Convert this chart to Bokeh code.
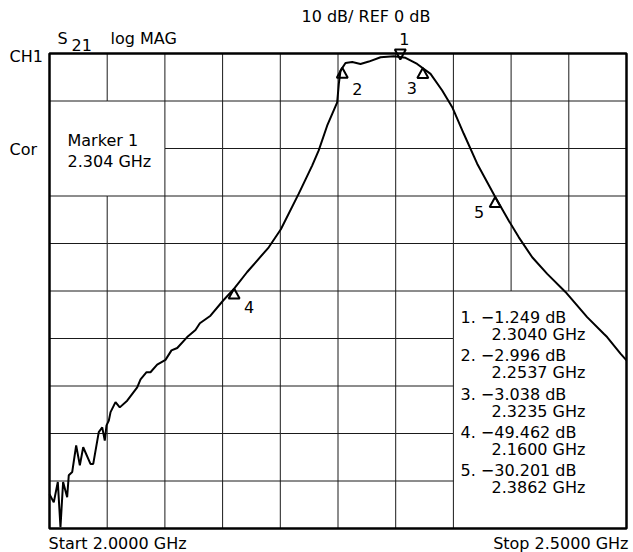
from bokeh.plotting import figure
from bokeh.models import Label, Range1d
from bokeh.embed import file_html
from bokeh.resources import INLINE

# ---------------- data ----------------
freq_ghz = [2.0000, 2.0037, 2.0072, 2.0095, 2.0118, 2.0153, 2.0167, 2.0197, 2.0231, 2.0263,
            2.0292, 2.0355, 2.0379, 2.0427, 2.0457, 2.0479, 2.0494, 2.0514, 2.0529, 2.0572,
            2.0609, 2.0673, 2.0760, 2.0789, 2.0841, 2.0875, 2.0933, 2.1005, 2.1057, 2.1107,
            2.1193, 2.1265, 2.1303, 2.1395, 2.1505, 2.1600, 2.1713, 2.1900, 2.2005, 2.2160,
            2.2276, 2.2333, 2.2406, 2.2493, 2.2507, 2.2522, 2.2565, 2.2623, 2.2695, 2.2767,
            2.2869, 2.2984, 2.3085, 2.3186, 2.3302, 2.3403, 2.3490, 2.3590, 2.3706, 2.3865,
            2.3980, 2.4067, 2.4183, 2.4313, 2.4471, 2.4659, 2.4803, 2.4832, 2.4948, 2.5000]
s21_db = [-92.8, -94.5, -90.2, -99.7, -90.2, -93.4, -88.8, -88.1, -82.5, -86.7,
          -82.9, -86.4, -86.4, -79.7, -78.7, -81.5, -78.3, -77.3, -75.5, -73.4,
          -74.5, -73.1, -70.3, -68.6, -67.1, -67.1, -65.5, -64.5, -62.5, -62.0,
          -59.7, -58.2, -56.8, -55.2, -52.0, -49.5, -46.0, -40.8, -37.0, -29.5,
          -23.6, -20.4, -15.2, -10.3, -6.4, -3.6, -2.0, -1.8, -2.2, -1.7,
          -0.8, -0.6, -0.9, -2.2, -4.3, -7.8, -11.3, -16.9, -23.2, -30.3,
          -35.2, -38.7, -42.9, -46.4, -50.2, -55.5, -59.0, -59.7, -63.2, -64.6]

marker_ids = ["1", "2", "3", "4", "5"]
marker_freq = [2.3040, 2.2537, 2.3235, 2.1600, 2.3862]
marker_db = [-1.249, -2.996, -3.038, -49.462, -30.201]

start_ghz, stop_ghz = 2.0, 2.5
ref_db, db_per_div, n_div = 0, 10, 10

# ---------------- layout ----------------
W, H = 633, 552
PL, PR, PT, PB = 49, 626, 53, 528          # graticule box on the canvas, pixels
FONT = "DejaVu Sans"
FS = "16px"

y_bottom = ref_db - db_per_div * n_div
gx = (stop_ghz - start_ghz) / (PR - PL)    # GHz per pixel
gy = (ref_db - y_bottom) / (PB - PT)       # dB per pixel

p = figure(width=W, height=H,
           x_range=Range1d(start_ghz - PL * gx, start_ghz + (W - PL) * gx),
           y_range=Range1d(ref_db - (H - PT) * gy, ref_db + PT * gy),
           x_axis_type=None, y_axis_type=None, toolbar_location=None, output_backend="svg",
           min_border=0)
p.outline_line_color = None
p.background_fill_color = "white"
p.border_fill_color = "white"

# grid with blank panels (col0, col1, row0, row1) in divisions, rows counted from top
panels = [(0, 2, 1, 3), (7, 10, 5, 10)]
dx = (stop_ghz - start_ghz) / n_div
x0s, y0s, x1s, y1s = [], [], [], []
for i in range(1, n_div):
    for r in range(n_div):
        if any(c0 < i < c1 and r0 <= r < r1 for c0, c1, r0, r1 in panels):
            continue
        x = start_ghz + i * dx
        x0s.append(x); x1s.append(x)
        y0s.append(ref_db - r * db_per_div); y1s.append(ref_db - (r + 1) * db_per_div)
for j in range(1, n_div):
    for c in range(n_div):
        if any(r0 < j < r1 and c0 <= c < c1 for c0, c1, r0, r1 in panels):
            continue
        y = ref_db - j * db_per_div
        y0s.append(y); y1s.append(y)
        x0s.append(start_ghz + c * dx); x1s.append(start_ghz + (c + 1) * dx)
p.segment(x0s, y0s, x1s, y1s, line_color="#1a1a1a", line_width=1)

# graticule frame
p.quad(left=[start_ghz], right=[stop_ghz], top=[ref_db], bottom=[y_bottom],
       fill_alpha=0, line_color="black", line_width=2.5)

# trace
p.line(freq_ghz, s21_db, line_color="black", line_width=2)

# markers (triangles, apex on trace)
hw, th = 5.5 * gx, 10 * gy
lbl_off = {"1": (4, 20), "2": (15, -21), "3": (-11, -20), "4": (15, -19), "5": (-16, -15)}
tri_x, tri_y = [], []
for mid, f, d in zip(marker_ids, marker_freq, marker_db):
    s = 1 if mid == "1" else -1
    tri_x.append([f - hw, f + hw, f])
    tri_y.append([d + s * th, d + s * th, d])
    ox, oy = lbl_off[mid]
    p.add_layout(Label(x=f, y=d, x_offset=ox, y_offset=oy, text=mid, text_align="center",
                       text_baseline="middle", text_font=FONT, text_font_size=FS,
                       text_color="black"))
p.patches(tri_x, tri_y, fill_alpha=0, line_color="black", line_width=2)


def txt(px, py, s, align="left"):
    p.add_layout(Label(x=px, y=H - py, x_units="screen", y_units="screen", text=s,
                       text_align=align, text_baseline="middle", text_font=FONT,
                       text_font_size=FS, text_color="black"))


txt(301, 16, f"{db_per_div} dB/ REF {ref_db} dB")
txt(57, 38, "S")
txt(71, 44, "21")
txt(110, 38, "log MAG")
txt(9, 56, "CH1")
txt(9, 149, "Cor")
txt(67, 140, "Marker 1")
txt(67, 161, f"{marker_freq[0]:.3f} GHz")
txt(48, 543, f"Start {start_ghz:.4f} GHz")
txt(628, 543, f"Stop {stop_ghz:.4f} GHz", align="right")

for k, (mid, f, d) in enumerate(zip(marker_ids, marker_freq, marker_db)):
    y = 317 + k * 38.3
    txt(460, y, f"{mid}.  \u2212{abs(d):.3f} dB")
    txt(491, y + 17, f"{f:.4f} GHz")

open("out.html", "w").write(file_html(p, INLINE))
